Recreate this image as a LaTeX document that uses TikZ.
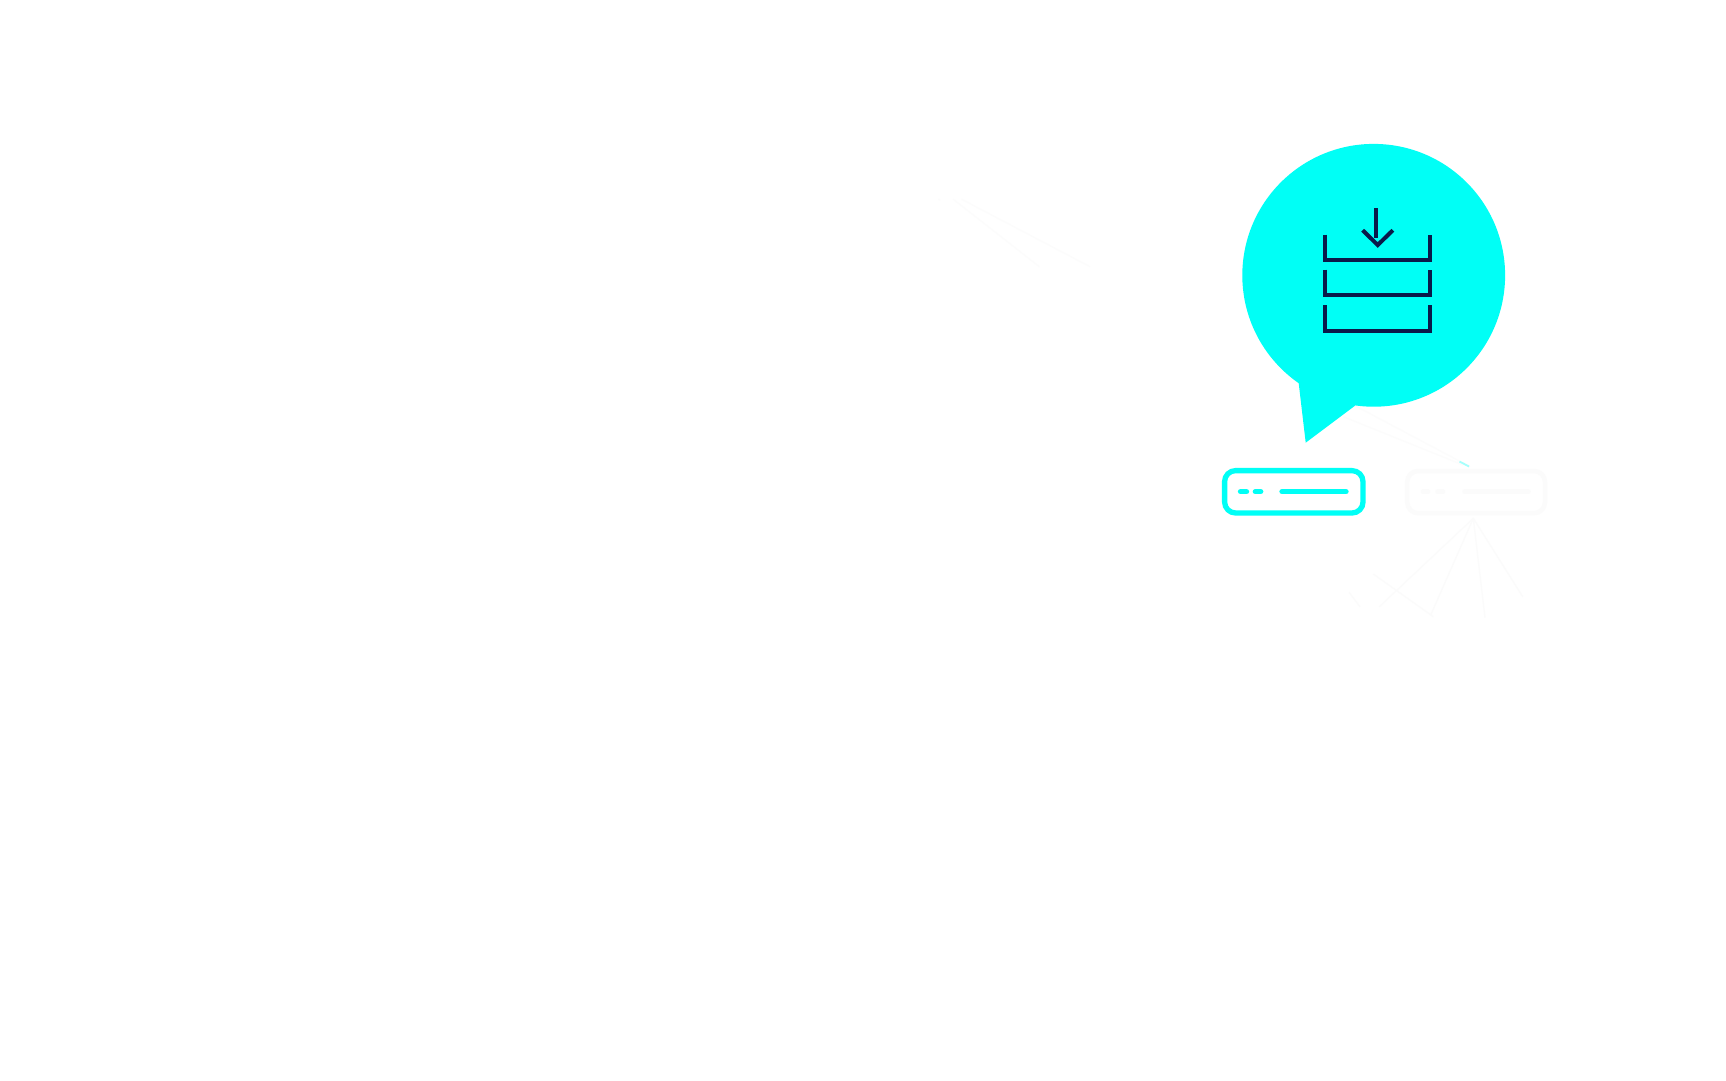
\documentclass[tikz,border=0pt]{standalone}
\definecolor{aqua}{HTML}{00FFF6}
\definecolor{navy}{HTML}{0A1A4A}
\definecolor{faint}{HTML}{FBFBFB}
\definecolor{fainter}{HTML}{FCFCFC}
\begin{document}
\begin{tikzpicture}[x=1pt,y=-1pt,
  iconline/.style={draw=navy,line width=4pt,miter limit=10},
  boxa/.style={draw=aqua,line width=5.3pt,rounded corners=11pt,outer sep=0pt,inner sep=0pt,anchor=north west},
  dasha/.style={draw=aqua,line width=5.3pt,line cap=round},
  boxb/.style={draw=faint,line width=4.5pt,rounded corners=11pt,outer sep=0pt,inner sep=0pt,anchor=north west},
  dashb/.style={draw=faint,line width=4.5pt,line cap=round},
  wisp/.style={draw=faint,line width=1.3pt},
  wispb/.style={draw=fainter,line width=1.2pt}]
\useasboundingbox (0,0) rectangle (1726,1080);
\fill[white] (0,0) rectangle (1726,1080);
% faint traces
\coordinate (apex) at (1473.3,518.3);
\coordinate (enda) at (1379.3,606.7);
\coordinate (endb) at (1430.7,615);
\coordinate (endc) at (1485,617.7);
\coordinate (endd) at (1522.7,596.7);
\draw[wisp] (apex) -- (enda);
\draw[wisp] (apex) -- (endb);
\draw[wisp] (apex) -- (endc);
\draw[wisp] (apex) -- (endd);
\draw[wisp] (1373.3,574) -- (1433.3,616.7);
\draw[wisp] (1349,592.3) -- (1360,606.7);
\draw[wispb] (1355,405.7) -- (1470,466.7);
\draw[wispb] (1343.3,416.7) -- (1463,465);
\draw[wispb] (953.3,199.3) -- (1039.3,266.7);
\draw[wispb] (961.7,199.3) -- (1090,266.7);
\draw[wispb] (938.5,199) -- (940,200);
\draw[aqua!35!white,line width=1.8pt] (1459.5,461.5) -- (1469,466.5);
% speech bubble
\fill[aqua] (1373.7,275.3) circle[radius=131.4];
\fill[aqua] (1298.7,383.3) -- (1305.7,442.7) -- (1355,405.7) -- (1373.7,275.3) -- cycle;
% tray icon
\foreach \y in {260,295.2,330.5}{
  \draw[iconline] (1325.3,\y-25.5) -- (1325.3,\y) -- (1430,\y) -- (1430,\y-25.5);
}
\draw[iconline] (1376.3,208) -- (1376.3,238.3);
\draw[iconline] (1362.6,230.2) -- (1377.7,245) -- (1392.9,230.2);
% box one
\node[boxa,minimum width=138.4pt,minimum height=42.4pt] (box1) at (1224.6,470.6) {};
\draw[dasha] (1240.5,491.7) -- (1246.5,491.7);
\draw[dasha] (1255.3,491.7) -- (1260.7,491.7);
\draw[dasha] (1282,491.7) -- (1346,491.7);
% box two
\node[boxb,minimum width=137.8pt,minimum height=42.2pt] (box2) at (1407.2,471) {};
\draw[dashb] (1423,491.7) -- (1428,491.7);
\draw[dashb] (1437.5,491.7) -- (1443,491.7);
\draw[dashb] (1464.5,491.7) -- (1528.5,491.7);
\end{tikzpicture}
\end{document}
